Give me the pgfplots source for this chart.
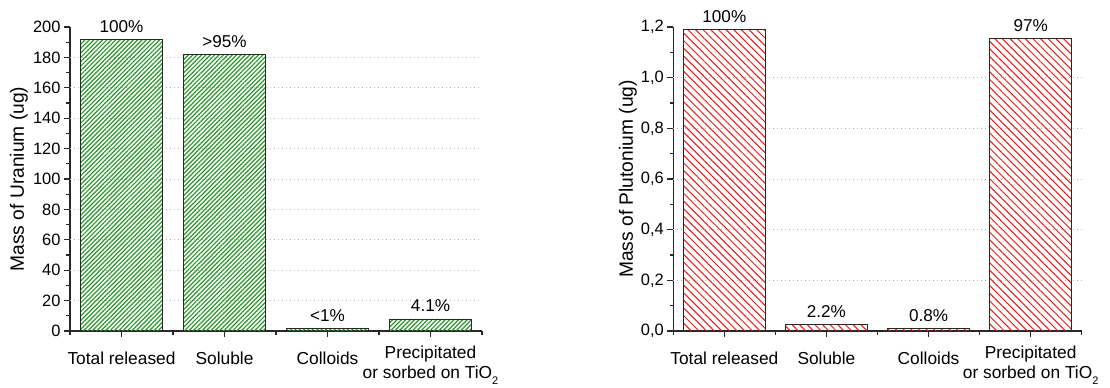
\documentclass[border=0pt]{standalone}
\usepackage{fontspec}
\setmainfont{Liberation Sans}
\usepackage{pgfplots}
\pgfplotsset{compat=1.18}
\usetikzlibrary{patterns.meta}

\definecolor{hatchgreen}{RGB}{40,150,40}
\definecolor{hatchred}{RGB}{245,20,20}
\definecolor{axisgray}{RGB}{40,40,40}

\newcommand{\sub}{\raisebox{-6.5bp}{\fontsize{11}{12}\selectfont 2}}
\newcommand{\precip}{\raisebox{5.6bp}{\begin{tabular}[t]{@{}c@{}}Precipitated\\or sorbed on TiO\sub\end{tabular}}}

\pgfplotsset{
  common/.style={
    scale only axis,
    width=#1, height=304bp,
    axis x line=bottom, axis y line=left,
    axis line style={-, line width=1.2bp, color=axisgray},
    xmin=-0.5, xmax=3.5, ymin=0,
    xtick={0,1,2,3}, minor xtick={-0.5,0.5,1.5,2.5,3.5},
    xticklabels={Total released, Soluble, Colloids, \precip},
    tick align=outside, major tick length=6bp, minor tick length=3.5bp,
    every tick/.style={line width=1.1bp, color=axisgray},
    xticklabel style={font=\fontsize{17.4}{20}\selectfont, anchor=base, yshift=-27bp},
    yticklabel style={font=\fontsize{16.5}{19}\selectfont},
    /pgf/number format/assume math mode=true,
    major grid style={dash pattern=on 1bp off 3bp, line width=1bp, color=black!28},
    clip=false,
    ybar, bar width=0.8,
    nodes near coords, point meta=explicit symbolic,
    every node near coord/.append style={font=\fontsize{17.2}{20}\selectfont, anchor=south, inner sep=0pt, yshift=6.5bp, color=black},
  }
}

\begin{document}
\begin{tikzpicture}
\path[use as bounding box] (0,0) rectangle (1110bp,-388bp);

\begin{axis}[common=412bp,
  at={(70bp,-331bp)}, anchor=south west,
  ymax=200,
  ytick={0,20,...,200}, minor ytick={10,30,...,190},
  extra y ticks={20,40,...,180}, extra y tick labels={},
  extra y tick style={grid=major, major tick length=0pt},
  ylabel={Mass of Uranium (ug)},
  ylabel style={at={(axis description cs:-0.1238,0.5)}, anchor=center, font=\fontsize{19.3}{22}\selectfont},
]
\addplot[draw=axisgray, line width=0.9bp, pattern={Lines[angle=45,distance=3.1bp,line width=1.2bp]}, pattern color=hatchgreen]
coordinates {(0,192) [100\%] (1,182) [>95\%] (2,1.5) [<1\%] (3,7.9) [4.1\%]};
\end{axis}

\begin{axis}[common=408.4bp,
  at={(673.3bp,-331bp)}, anchor=south west,
  ymax=1.2,
  ytick={0,0.2,0.4,0.6,0.8,1.0,1.2}, minor ytick={0.1,0.3,0.5,0.7,0.9,1.1},
  yticklabel style={/pgf/number format/.cd, fixed, fixed zerofill, precision=1, use comma},
  extra y ticks={0.2,0.4,0.6,0.8,1.0}, extra y tick labels={},
  extra y tick style={grid=major, major tick length=0pt},
  ylabel={Mass of Plutonium (ug)},
  ylabel style={at={(axis description cs:-0.111,0.5)}, anchor=center, font=\fontsize{19.3}{22}\selectfont},
]
\addplot[draw=axisgray, line width=0.9bp, pattern={Lines[angle=-45,distance=5.4bp,line width=1bp]}, pattern color=hatchred]
coordinates {(0,1.19) [100\%] (1,0.026) [2.2\%] (2,0.0095) [0.8\%] (3,1.155) [97\%]};
\end{axis}
\end{tikzpicture}
\end{document}
